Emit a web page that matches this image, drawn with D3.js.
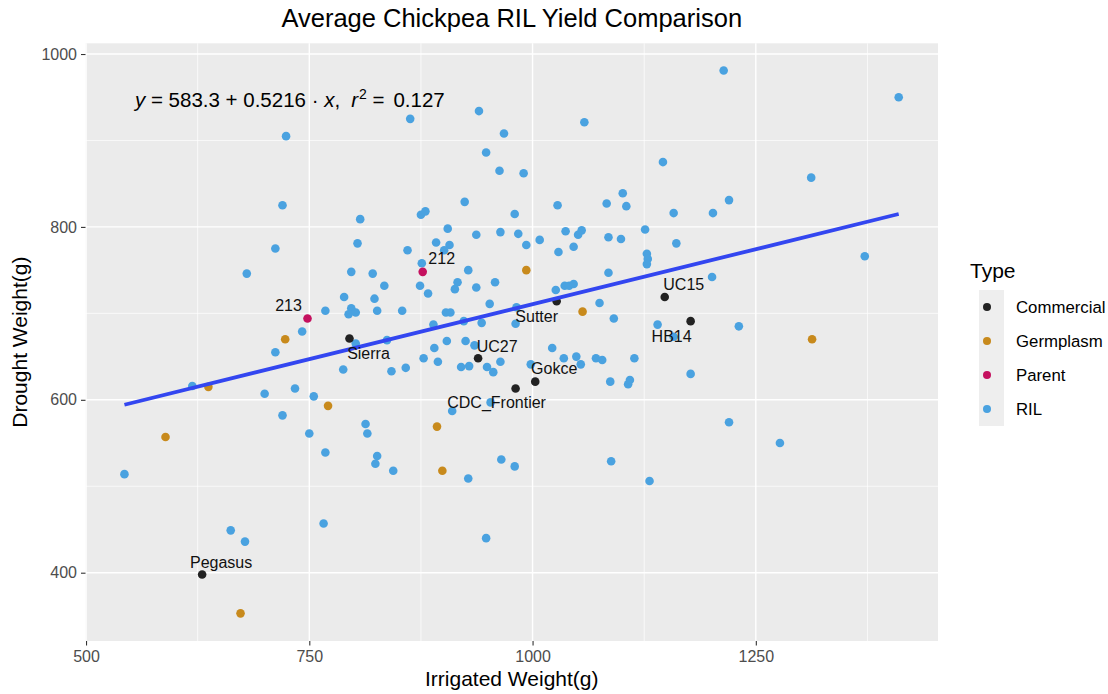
<!DOCTYPE html>
<html>
<head>
<meta charset="utf-8">
<script src="https://cdn.jsdelivr.net/npm/d3@7"></script>
<style>
  body { margin: 0; background: #fff; }
  text { font-family: "Liberation Sans", Arial, sans-serif; }
</style>
</head>
<body>
<svg id="chart" width="1108" height="694"></svg>
<script>
// Legend order and colours
const types = ['Commercial', 'Germplasm', 'Parent', 'RIL'];
const typeColors = ['#222222', '#C88A1C', '#C5115F', '#4AA2E0'];

// [irrigated, drought] pairs
const commercialNames = ['Pegasus', 'Sierra', 'UC27', 'CDC_Frontier', 'Gokce', 'Sutter', 'UC15', 'HB14'];
const commercialPts = [[630, 398], [795, 671], [939, 648], [981, 613], [1003, 621], [1027, 714], [1148, 719], [1177, 691]];

const parentNames = ['213', '212'];
const parentPts = [[748, 694], [877, 748]];

const germplasmPts = [[723, 670], [637, 615], [771, 593], [589, 557], [673, 353], [899, 518], [893, 569], [993, 750], [1056, 702], [1313, 670]];

const rilPts = [
  [724, 905], [720, 825], [807, 809], [712, 775], [804, 781], [863, 925], [940, 934], [968, 908], [948, 886], [963, 865],
  [990, 862], [1058, 921], [1146, 875], [924, 829], [875, 814], [880, 818], [905, 798], [892, 782], [907, 779], [937, 791],
  [964, 794], [984, 792], [980, 815], [993, 779], [1008, 785], [1028, 825], [1037, 795], [1051, 791], [1055, 796], [1046, 777],
  [1083, 827], [1101, 839], [1105, 824], [1085, 788], [1099, 786], [1126, 797], [1158, 816], [1161, 781], [860, 773], [1029, 771],
  [1214, 981], [1410, 950], [1312, 857], [1220, 831], [1202, 816], [680, 746], [797, 748], [821, 746], [834, 732], [789, 719],
  [823, 717], [768, 703], [797, 706], [794, 699], [802, 701], [826, 703], [742, 679], [802, 665], [712, 655], [788, 635],
  [619, 616], [700, 607], [734, 613], [755, 604], [720, 582], [813, 572], [815, 561], [750, 561], [543, 514], [768, 539],
  [826, 535], [824, 526], [766, 457], [662, 449], [678, 436], [844, 518], [928, 509], [965, 531], [980, 523], [948, 440],
  [1088, 529], [1131, 506], [1277, 550], [1372, 766], [1201, 742], [1231, 685], [1158, 673], [1177, 630], [1220, 574], [901, 773],
  [876, 758], [928, 750], [916, 736], [913, 728], [874, 732], [883, 723], [937, 730], [958, 736], [1085, 747], [1026, 727],
  [1036, 732], [1041, 732], [1046, 734], [1128, 769], [1129, 763], [1128, 757], [1075, 712], [1091, 694], [982, 707], [952, 711],
  [903, 701], [908, 701], [854, 703], [923, 691], [889, 687], [943, 689], [981, 688], [837, 669], [904, 668], [925, 668],
  [935, 663], [890, 660], [1022, 660], [878, 648], [894, 644], [842, 633], [858, 637], [920, 638], [929, 639], [949, 638],
  [956, 632], [964, 644], [998, 641], [1035, 648], [1049, 650], [1054, 641], [1071, 648], [1078, 646], [1114, 648], [1087, 621],
  [1107, 618], [1109, 623], [953, 597], [910, 587], [1140, 687]
];

const xTicks = [500, 750, 1000, 1250];
const yTicks = [400, 600, 800, 1000];
const eqParts = ['y', ' = 583.3 + 0.5216 \u00b7 ', 'x', ',', 'r', '2', ' =', '0.127'];

// label nudges (px) for the named points
const labelNudge = {
  'Pegasus': [19, -12], 'Sierra': [19, 15], 'UC27': [19, -12], 'CDC_Frontier': [-19, 14],
  'Gokce': [19, -13], 'Sutter': [-20, 15], 'UC15': [19, -13], 'HB14': [-19, 15],
  '213': [-19, -13], '212': [19, -13]
};

const svg = d3.select('#chart');
const P = { l: 85.5, r: 938, t: 43.3, b: 641 };

const x = d3.scaleLinear().domain([499.4, 1454]).range([P.l, P.r]);
const y = d3.scaleLinear().domain([321, 1012.4]).range([P.b, P.t]);

// panel
svg.append('rect').attr('x', P.l).attr('y', P.t)
  .attr('width', P.r - P.l).attr('height', P.b - P.t).attr('fill', '#EBEBEB');

const grid = svg.append('g');
const xMinor = xTicks.map(d => d + 125).filter(d => d < 1454);
const yMinor = [500, 700, 900];
grid.selectAll('.xm').data(xMinor).join('line')
  .attr('x1', d => x(d)).attr('x2', d => x(d)).attr('y1', P.t).attr('y2', P.b)
  .attr('stroke', '#fff').attr('stroke-width', 0.7);
grid.selectAll('.ym').data(yMinor).join('line')
  .attr('class', 'ym')
  .attr('y1', d => y(d)).attr('y2', d => y(d)).attr('x1', P.l).attr('x2', P.r)
  .attr('stroke', '#fff').attr('stroke-width', 0.7);
grid.selectAll('.xg').data(xTicks).join('line')
  .attr('class', 'xg')
  .attr('x1', d => x(d)).attr('x2', d => x(d)).attr('y1', P.t).attr('y2', P.b)
  .attr('stroke', '#fff').attr('stroke-width', 1.4);
grid.selectAll('.yg').data(yTicks).join('line')
  .attr('class', 'yg')
  .attr('y1', d => y(d)).attr('y2', d => y(d)).attr('x1', P.l).attr('x2', P.r)
  .attr('stroke', '#fff').attr('stroke-width', 1.4);

// axes
const xAxis = svg.append('g').attr('transform', `translate(0,${P.b})`)
  .call(d3.axisBottom(x).tickValues(xTicks).tickFormat(d3.format('d')).tickSize(4.5).tickPadding(5));
const yAxis = svg.append('g').attr('transform', `translate(${P.l},0)`)
  .call(d3.axisLeft(y).tickValues(yTicks).tickFormat(d3.format('d')).tickSize(4.5).tickPadding(4));
[xAxis, yAxis].forEach(a => {
  a.select('.domain').remove();
  a.selectAll('line').attr('stroke', '#333').attr('stroke-width', 1.1);
  a.selectAll('text').attr('fill', '#4D4D4D').style('font-size', '16px')
    .style('font-family', '"Liberation Sans", Arial, sans-serif');
});

// points
const color = d3.scaleOrdinal().domain(types).range(typeColors);
const allPts = [
  ...rilPts.map(p => ({ x: p[0], y: p[1], type: 'RIL' })),
  ...germplasmPts.map(p => ({ x: p[0], y: p[1], type: 'Germplasm' })),
  ...parentPts.map((p, i) => ({ x: p[0], y: p[1], type: 'Parent', name: parentNames[i] })),
  ...commercialPts.map((p, i) => ({ x: p[0], y: p[1], type: 'Commercial', name: commercialNames[i] }))
];
svg.append('g').selectAll('circle').data(allPts).join('circle')
  .attr('cx', d => x(d.x)).attr('cy', d => y(d.y)).attr('r', 4.3)
  .attr('fill', d => color(d.type));

// least squares fit over all points
const mx = d3.mean(allPts, d => d.x), my = d3.mean(allPts, d => d.y);
const slope = d3.sum(allPts, d => (d.x - mx) * (d.y - my)) / d3.sum(allPts, d => (d.x - mx) ** 2);
const icpt = my - slope * mx;
const [xmin, xmax] = d3.extent(allPts, d => d.x);
svg.append('path')
  .datum([xmin, xmax])
  .attr('d', d3.line().x(d => x(d)).y(d => y(icpt + slope * d)))
  .attr('stroke', '#3346F0').attr('stroke-width', 3.8).attr('fill', 'none');

// labels
svg.append('g').selectAll('text').data(allPts.filter(d => d.name)).join('text')
  .attr('x', d => x(d.x) + labelNudge[d.name][0])
  .attr('y', d => y(d.y) + labelNudge[d.name][1])
  .attr('dy', '0.35em').attr('text-anchor', 'middle')
  .style('font-size', '16px').attr('fill', '#111')
  .text(d => d.name);

// equation (plotmath-like spacing)
const eq = svg.append('text').attr('x', 135).attr('y', 107).style('font-size', '20.5px').attr('fill', '#000');
const eqDx = [0, 0, 0, 0, 11, 1, 0, 9];
eqParts.forEach((s, i) => {
  const t = eq.append('tspan').text(s).attr('dx', eqDx[i]);
  if (s === 'y' || s === 'x' || s === 'r') t.attr('font-style', 'italic');
  if (i === 5) t.attr('dy', -8).style('font-size', '14px');
  if (i === 6) t.attr('dy', 8);
});

// titles
svg.append('text').attr('x', (P.l + P.r) / 2).attr('y', 27).attr('text-anchor', 'middle')
  .style('font-size', '25.5px').attr('fill', '#000').text('Average Chickpea RIL Yield Comparison');
svg.append('text').attr('x', (P.l + P.r) / 2).attr('y', 686).attr('text-anchor', 'middle')
  .style('font-size', '21px').attr('fill', '#000').text('Irrigated Weight(g)');
svg.append('text').attr('transform', `translate(27,${(P.t + P.b) / 2}) rotate(-90)`)
  .attr('text-anchor', 'middle').style('font-size', '21px').attr('fill', '#000').text('Drought Weight(g)');

// legend
const lg = svg.append('g');
lg.append('text').attr('x', 970).attr('y', 277.5).style('font-size', '21px').attr('fill', '#000').text('Type');
const keys = lg.selectAll('g').data(types).join('g')
  .attr('transform', (d, i) => `translate(979,${290 + i * 34})`);
keys.append('rect').attr('width', 25).attr('height', 34).attr('fill', '#EEEEEE');
keys.append('circle').attr('cx', 8).attr('cy', 17).attr('r', 4).attr('fill', d => color(d));
keys.append('text').attr('x', 37).attr('y', 17).attr('dy', '0.35em')
  .style('font-size', '16.8px').attr('fill', '#000').text(d => d);
</script>
</body>
</html>
